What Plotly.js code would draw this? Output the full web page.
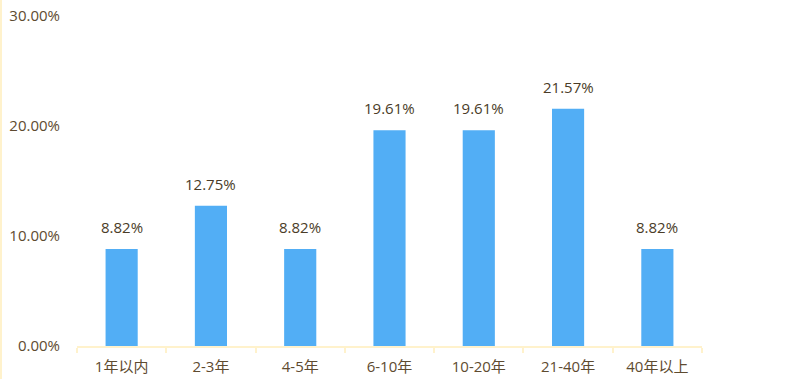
<!DOCTYPE html>
<html><head><meta charset="utf-8">
<script src="https://cdn.plot.ly/plotly-3.0.1.min.js"></script>
<style>
html,body{margin:0;padding:0;background:#fff;}
#chart{width:785px;height:379px;box-sizing:border-box;border-left:2px solid #FFF2CC;}
</style></head>
<body><div id="chart"></div>
<script>
const categories = ['1年以内','2-3年','4-5年','6-10年','10-20年','21-40年','40年以上'];
const values = [8.82, 12.75, 8.82, 19.61, 19.61, 21.57, 8.82];
const tickVals = [0, 10, 20, 30];
const tickLabels = ['0.00%','10.00%','20.00%','30.00%'];

const font = "'Open Sans', 'Noto Sans CJK SC', sans-serif";
const trace = {
  type: 'bar', x: categories, y: values,
  marker: {color: '#52AEF5'},
  width: 0.36,
  hoverinfo: 'skip'
};
const annotations = categories.map((c, i) => ({
  x: c, y: values[i], xref: 'x', yref: 'y',
  text: values[i].toFixed(2) + '%', showarrow: false,
  yanchor: 'bottom', yshift: 10,
  font: {family: font, size: 15, color: '#4A3C28'}
}));
const layout = {
  width: 783, height: 379,
  margin: {l: 75, r: 83, t: 16, b: 33},
  paper_bgcolor: '#fff', plot_bgcolor: '#fff',
  showlegend: false,
  bargap: 0.64,
  xaxis: {
    type: 'category', showgrid: false, zeroline: false,
    showline: true, linecolor: '#FFF2CC', linewidth: 2,
    ticks: 'outside', ticklen: 5, tickcolor: '#FFF2CC', tickwidth: 2,
    tickson: 'boundaries', ticklabelstandoff: 6,
    tickfont: {family: font, size: 15, color: '#5E4B30'}
  },
  yaxis: {
    range: [0, 30], tickvals: tickVals, ticktext: tickLabels,
    showgrid: false, zeroline: false, showline: false,
    ticks: '', ticklabelstandoff: 16,
    tickfont: {family: font, size: 15, color: '#5E4B30'}
  },
  annotations: annotations
};
Plotly.newPlot('chart', [trace], layout, {displayModeBar: false, staticPlot: true});
</script></body></html>
